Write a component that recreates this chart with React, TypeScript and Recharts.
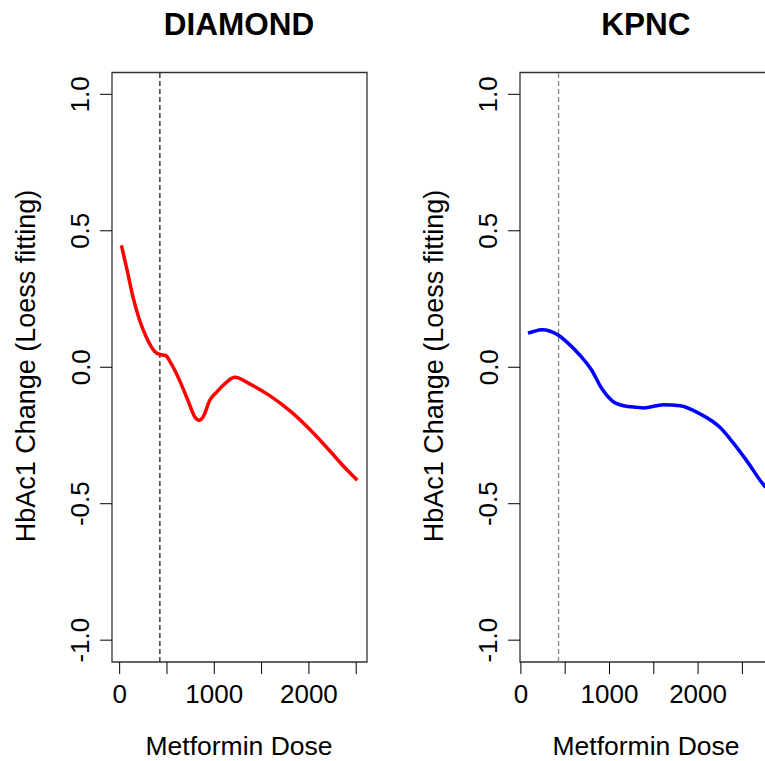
import React from 'react';
import { LineChart, Line, XAxis, YAxis, ReferenceLine, ReferenceArea } from 'recharts';

const FONT = '"Liberation Sans", Arial, Helvetica, sans-serif';

// DIAMOND panel (loess fit)
const diamondDose = [18, 71, 141, 211, 282, 370, 423, 486, 546, 634, 722, 793, 839, 888, 951, 1022, 1128, 1216, 1374, 1586, 1797, 2008, 2220, 2396, 2512];
const diamondChange = [0.447, 0.368, 0.257, 0.172, 0.110, 0.058, 0.047, 0.043, 0.012, -0.049, -0.122, -0.181, -0.194, -0.178, -0.122, -0.092, -0.055, -0.037, -0.061, -0.104, -0.159, -0.227, -0.306, -0.374, -0.414];

// KPNC panel
const kpncDose = [80, 142, 237, 331, 424, 519, 669, 801, 914, 1027, 1158, 1309, 1384, 1609, 1798, 2024, 2249, 2362, 2550, 2720, 2762];
const kpncChange = [0.125, 0.131, 0.137, 0.132, 0.117, 0.092, 0.043, -0.012, -0.079, -0.122, -0.141, -0.147, -0.149, -0.137, -0.141, -0.171, -0.221, -0.263, -0.343, -0.423, -0.44];

const cutoffDose = 425;
const xTicks = [0, 500, 1000, 1500, 2000, 2500];
const yTicks = [-1, -0.5, 0, 0.5, 1];
const yDomain = [-1.08, 1.08];
const diamondXDomain = [-81, 2614];
const kpncXDomain = [-10, 2868];

const toRows = (xs: number[], ys: number[]) => xs.map((d, i) => ({ dose: d, change: ys[i] }));

const YTick = (props: any) => {
  const { x, y, payload } = props;
  const bx = x - 10.5;
  return (
    <text x={bx} y={y} transform={`rotate(-90, ${bx}, ${y})`} textAnchor="middle" fontSize={26} fontFamily={FONT} fill="#000">
      {Number(payload.value).toFixed(1)}
    </text>
  );
};

const XTick = (props: any) => {
  const { x, y, payload } = props;
  if (payload.value % 1000 !== 0) return <g />;
  return (
    <text x={x} y={y + 29} textAnchor="middle" fontSize={26} fontFamily={FONT} fill="#000">
      {payload.value}
    </text>
  );
};

const Panel = ({ rows, xDomain, color, refColor, left }: any) => (
  <div style={{ position: 'absolute', left, top: 0 }}>
    <LineChart width={400} height={761} data={rows} margin={{ top: 72.5, right: 33, bottom: 0, left: 0 }}>
      <XAxis
        type="number"
        dataKey="dose"
        domain={xDomain}
        ticks={xTicks}
        allowDataOverflow
        height={99}
        axisLine={false}
        tickSize={12}
        tickMargin={0}
        tickLine={{ stroke: '#000', strokeWidth: 1 }}
        tick={<XTick />}
        interval={0}
      />
      <YAxis
        type="number"
        domain={yDomain}
        ticks={yTicks}
        allowDataOverflow
        width={112}
        axisLine={false}
        tickSize={12}
        tickMargin={0}
        tickLine={{ stroke: '#000', strokeWidth: 1 }}
        tick={<YTick />}
        interval={0}
      />
      <ReferenceArea x1={xDomain[0]} x2={xDomain[1]} y1={yDomain[0]} y2={yDomain[1]} fill="none" stroke="#333" strokeWidth={1.3} ifOverflow="visible" />
      <ReferenceLine x={cutoffDose} stroke={refColor} strokeWidth={1.3} strokeDasharray="5 3" />
      <Line type="monotone" dataKey="change" stroke={color} strokeWidth={3.5} dot={false} isAnimationActive={false} />
    </LineChart>
  </div>
);

export default function App() {
  return (
    <div style={{ position: 'fixed', left: 0, top: 0, width: 765, height: 761, overflow: 'hidden', background: '#fff' }}>
      <Panel rows={toRows(diamondDose, diamondChange)} xDomain={diamondXDomain} color="#FF0000" refColor="#222" left={0} />
      <Panel rows={toRows(kpncDose, kpncChange)} xDomain={kpncXDomain} color="#0000FF" refColor="#888" left={408} />
      <svg width={765} height={761} style={{ position: 'absolute', left: 0, top: 0, pointerEvents: 'none' }}>
        <text x={239} y={35} textAnchor="middle" fontSize={31.5} fontWeight="bold" fontFamily={FONT} fill="#000">DIAMOND</text>
        <text x={646} y={35} textAnchor="middle" fontSize={31.5} fontWeight="bold" fontFamily={FONT} fill="#000">KPNC</text>
        <text x={239} y={755} textAnchor="middle" fontSize={26.5} fontFamily={FONT} fill="#000">Metformin Dose</text>
        <text x={646} y={755} textAnchor="middle" fontSize={26.5} fontFamily={FONT} fill="#000">Metformin Dose</text>
        <text x={35} y={366} transform="rotate(-90, 35, 366)" textAnchor="middle" fontSize={27} fontFamily={FONT} fill="#000">HbAc1 Change (Loess fitting)</text>
        <text x={443} y={366} transform="rotate(-90, 443, 366)" textAnchor="middle" fontSize={27} fontFamily={FONT} fill="#000">HbAc1 Change (Loess fitting)</text>
      </svg>
    </div>
  );
}
